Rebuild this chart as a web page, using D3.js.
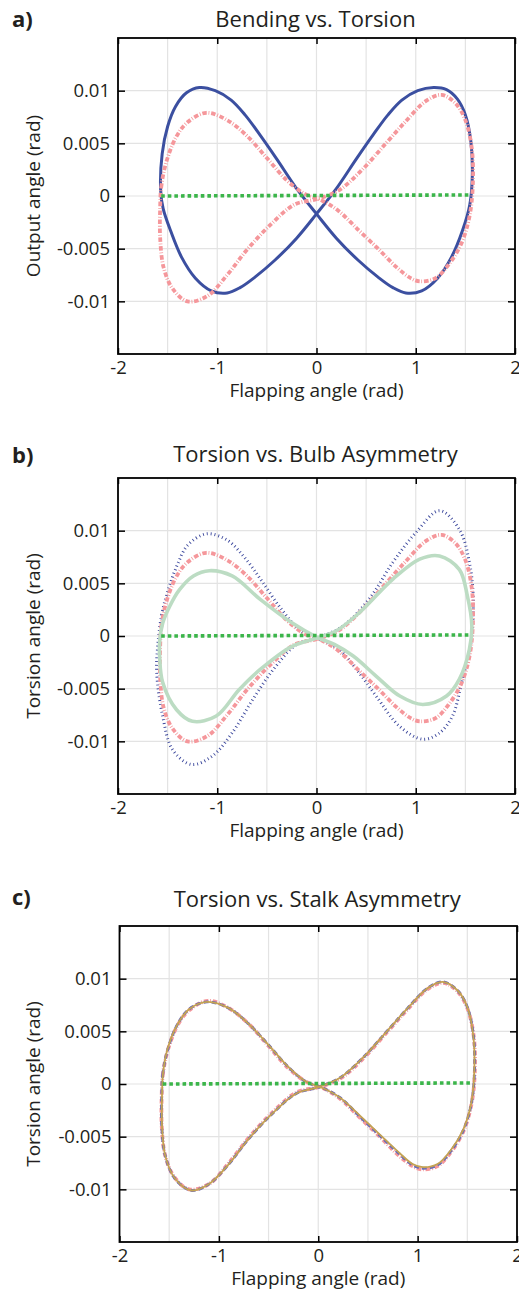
<!DOCTYPE html>
<html>
<head>
<meta charset="utf-8">
<script src="https://cdn.jsdelivr.net/npm/d3@7"></script>
<style>
body{margin:0;background:#fff}
text{font-family:"Open Sans",sans-serif;fill:#231f20}
</style>
</head>
<body>
<div class="chart"></div>
<script>
// axis ticks
const xTicks=[-2,-1,0,1,2]
const xTickLabels=['-2','-1','0','1','2']
const yTicks=[-0.01,-0.005,0,0.005,0.01]
const yTickLabels=['-0.01','-0.005','0','0.005','0.01']
const xGrid=[-1.5,-1,-0.5,0,0.5,1,1.5]

// [flapping angle, output angle]
const bending=[
	[-1.57,0.0005],[-1.555,0.0040],[-1.50,0.0066],[-1.42,0.0085],[-1.31,0.0098],[-1.18,0.0103],
	[-1.02,0.0100],[-0.86,0.0091],[-0.72,0.0077],[-0.57,0.0058],[-0.40,0.0035],[-0.20,0.0007],
	[0,-0.0017],[0.20,-0.0040],[0.42,-0.0061],[0.62,-0.0077],[0.77,-0.0087],[0.90,-0.0092],
	[1.06,-0.0090],[1.22,-0.0078],[1.36,-0.0058],[1.47,-0.0033],[1.545,-0.0008],[1.57,0.0020],
	[1.555,0.0052],[1.50,0.0077],[1.42,0.0092],[1.31,0.0101],[1.18,0.0103],[1.02,0.0100],
	[0.86,0.0091],[0.72,0.0077],[0.57,0.0058],[0.40,0.0035],[0.20,0.0007],[0,-0.0017],
	[-0.20,-0.0040],[-0.42,-0.0061],[-0.62,-0.0077],[-0.77,-0.0087],[-0.90,-0.0092],
	[-1.06,-0.0090],[-1.22,-0.0078],[-1.36,-0.0058],[-1.47,-0.0033],[-1.545,-0.0012]
]
const torsion=[
	[-1.575,-0.0010],[-1.565,0.0008],[-1.52,0.0030],[-1.42,0.0055],[-1.30,0.0070],[-1.11,0.0079],
	[-0.90,0.0072],[-0.70,0.0057],[-0.50,0.0036],[-0.30,0.0015],[-0.12,0.0002],[0.05,-0.0004],
	[0.22,-0.0014],[0.43,-0.0033],[0.62,-0.0050],[0.80,-0.0067],[0.95,-0.0078],[1.04,-0.0081],
	[1.20,-0.0078],[1.34,-0.0064],[1.46,-0.0045],[1.54,-0.0020],[1.575,0.0010],[1.565,0.0045],
	[1.50,0.0072],[1.40,0.0088],[1.26,0.0096],[1.10,0.0090],[0.90,0.0071],[0.70,0.0050],
	[0.45,0.0024],[0.22,0.0005],[0,-0.0003],[-0.22,-0.0008],[-0.45,-0.0026],[-0.70,-0.0051],
	[-0.90,-0.0075],[-1.10,-0.0095],[-1.30,-0.0100],[-1.45,-0.0088],[-1.54,-0.0068],[-1.575,-0.0040]
]
const flat=[[-1.565,0],[1.55,0.0001]]
const bulbHigh=[
	[-1.60,-0.0010],[-1.56,0.0020],[-1.49,0.0045],[-1.40,0.0068],[-1.30,0.0086],[-1.11,0.0097],
	[-0.90,0.0091],[-0.72,0.0074],[-0.55,0.0052],[-0.35,0.0025],[-0.15,0.0004],[0.05,-0.0004],
	[0.23,-0.0013],[0.43,-0.0035],[0.60,-0.0057],[0.84,-0.0086],[1.07,-0.0098],[1.24,-0.0092],
	[1.37,-0.0076],[1.47,-0.0041],[1.55,-0.0010],[1.58,0.0035],[1.54,0.0070],[1.44,0.0101],
	[1.24,0.0119],[1.00,0.0098],[0.77,0.0070],[0.53,0.0035],[0.26,0.0009],[0,-0.0002],
	[-0.20,-0.0008],[-0.42,-0.0030],[-0.64,-0.0060],[-0.85,-0.0092],[-1.05,-0.0114],
	[-1.26,-0.0122],[-1.45,-0.0108],[-1.55,-0.0076],[-1.61,-0.0035]
]
const bulbLow=[
	[-1.58,-0.0005],[-1.55,0.0012],[-1.48,0.0028],[-1.38,0.0044],[-1.24,0.0057],[-1.08,0.0062],
	[-0.85,0.0057],[-0.57,0.0035],[-0.24,0.0012],[0,-0.0001],[0.18,-0.0008],[0.37,-0.0019],
	[0.60,-0.0038],[0.84,-0.0057],[1.07,-0.0065],[1.31,-0.0057],[1.44,-0.0041],[1.54,-0.0013],
	[1.565,0.0010],[1.52,0.0038],[1.44,0.0063],[1.24,0.0076],[1.04,0.0073],[0.77,0.0054],
	[0.43,0.0022],[0.20,0.0005],[0,-0.0002],[-0.25,-0.0010],[-0.57,-0.0032],[-0.78,-0.0051],
	[-1.01,-0.0076],[-1.25,-0.0081],[-1.41,-0.0070],[-1.55,-0.0044],[-1.58,-0.0020]
]
const stalkA=[
	[-1.575,-0.0010],[-1.565,0.0009],[-1.52,0.0031],[-1.42,0.0056],[-1.30,0.0071],[-1.12,0.0078],
	[-0.90,0.0072],[-0.70,0.0057],[-0.50,0.0037],[-0.30,0.0016],[-0.12,0.0002],[0.05,-0.0004],
	[0.22,-0.0013],[0.43,-0.0032],[0.62,-0.0049],[0.80,-0.0065],[0.95,-0.0077],[1.05,-0.0080],
	[1.20,-0.0077],[1.34,-0.0063],[1.46,-0.0044],[1.54,-0.0019],[1.572,0.0011],[1.562,0.0046],
	[1.50,0.0073],[1.40,0.0089],[1.25,0.0097],[1.10,0.0091],[0.90,0.0072],[0.70,0.0051],
	[0.45,0.0025],[0.22,0.0006],[0,-0.0003],[-0.22,-0.0009],[-0.45,-0.0027],[-0.70,-0.0052],
	[-0.90,-0.0076],[-1.10,-0.0095],[-1.28,-0.0101],[-1.44,-0.0090],[-1.54,-0.0068],[-1.575,-0.0040]
]
const stalkB=[
	[-1.572,-0.0010],[-1.562,0.0010],[-1.52,0.0032],[-1.42,0.0056],[-1.30,0.0071],[-1.12,0.0078],
	[-0.90,0.0072],[-0.70,0.0057],[-0.50,0.0037],[-0.30,0.0016],[-0.12,0.0002],[0.05,-0.0004],
	[0.22,-0.0013],[0.43,-0.0031],[0.62,-0.0048],[0.80,-0.0064],[0.95,-0.0076],[1.05,-0.0079],
	[1.20,-0.0076],[1.34,-0.0062],[1.46,-0.0043],[1.54,-0.0018],[1.57,0.0012],[1.56,0.0046],
	[1.50,0.0073],[1.40,0.0089],[1.25,0.0097],[1.10,0.0091],[0.90,0.0072],[0.70,0.0051],
	[0.45,0.0025],[0.22,0.0006],[0,-0.0003],[-0.22,-0.0009],[-0.45,-0.0027],[-0.70,-0.0052],
	[-0.90,-0.0076],[-1.10,-0.0095],[-1.28,-0.0101],[-1.44,-0.0090],[-1.54,-0.0068],[-1.572,-0.0040]
]

const pinkStyle={data:torsion,color:'#f5979b',width:3.8,dash:'4.5,1.8,0.8,1.8',closed:true}
const greenStyle={data:flat,color:'#3bb54a',width:3.6,dash:'3.6,3',closed:false}

const panels=[
	{label:'a)',title:'Bending vs. Torsion',ylabel:'Output angle (rad)',top:38,bottom:354,left:118,right:515,titleY:27,labelY:27,
		series:[{data:bending,color:'#3b4fa0',width:3,dash:null,closed:true},pinkStyle,greenStyle]},
	{label:'b)',title:'Torsion vs. Bulb Asymmetry',ylabel:'Torsion angle (rad)',top:478,bottom:794,left:118,right:515,titleY:462,labelY:463,
		series:[{data:bulbHigh,color:'#3a469c',width:3,dash:'0.9,3',closed:true},pinkStyle,
			{data:bulbLow,color:'#bcdcc3',width:3.6,dash:null,closed:true},greenStyle]},
	{label:'c)',title:'Torsion vs. Stalk Asymmetry',ylabel:'Torsion angle (rad)',top:926,bottom:1242,left:119.5,right:517,titleY:907,labelY:905,
		series:[pinkStyle,{data:stalkA,color:'#6a6cb6',width:2.8,dash:'5,3',closed:true},
			{data:stalkB,color:'#c4a352',width:1.8,dash:null,closed:true},greenStyle]}
]

const svg=d3.select('.chart').append('svg')
		.attr('width',519)
		.attr('height',1291)

function drawPanel(p){
	const x=d3.scaleLinear().domain([-2,2]).range([p.left,p.right])
	const y=d3.scaleLinear().domain([-0.015,0.015]).range([p.bottom,p.top])
	const g=svg.append('g')

	// grid
	g.selectAll('.vgrid').data(xGrid).enter().append('line')
		.attr('x1',d=>x(d)).attr('x2',d=>x(d))
		.attr('y1',p.top).attr('y2',p.bottom)
		.attr('stroke','#e3e3e3').attr('stroke-width',1.2)
	g.selectAll('.hgrid').data(yTicks).enter().append('line')
		.attr('y1',d=>y(d)).attr('y2',d=>y(d))
		.attr('x1',p.left).attr('x2',p.right)
		.attr('stroke','#e3e3e3').attr('stroke-width',1.2)

	// curves
	p.series.forEach(s=>{
		const line=d3.line()
			.x(d=>x(d[0]))
			.y(d=>y(d[1]))
			.curve(s.closed?d3.curveCatmullRomClosed.alpha(0.5):d3.curveLinear)
		g.append('path')
			.attr('d',line(s.data))
			.attr('fill','none')
			.attr('stroke',s.color)
			.attr('stroke-width',s.width)
			.attr('stroke-dasharray',s.dash)
	})

	// axes, ticks pointing inward
	const xAxis=d3.axisBottom(x).tickValues(xTicks).tickSize(-6).tickPadding(7)
		.tickFormat((d,i)=>xTickLabels[i])
	const xTop=d3.axisTop(x).tickValues(xTicks).tickSize(-6).tickFormat('')
	const yAxis=d3.axisLeft(y).tickValues(yTicks).tickSize(-7).tickPadding(8)
		.tickFormat((d,i)=>yTickLabels[i])
	const yRight=d3.axisRight(y).tickValues(yTicks).tickSize(-7).tickFormat('')

	const axes=[
		[xAxis,`translate(0,${p.bottom})`],
		[xTop,`translate(0,${p.top})`],
		[yAxis,`translate(${p.left},0)`],
		[yRight,`translate(${p.right},0)`]
	]
	axes.forEach(a=>{
		const ag=g.append('g').attr('transform',a[1]).call(a[0])
		ag.select('.domain').remove()
		ag.selectAll('line').attr('stroke','#000').attr('stroke-width',1.5)
		ag.selectAll('text').attr('font-family','"Open Sans",sans-serif')
			.attr('font-size',18.5).attr('fill','#231f20')
	})

	g.append('rect')
		.attr('x',p.left).attr('y',p.top)
		.attr('width',p.right-p.left).attr('height',p.bottom-p.top)
		.attr('fill','none').attr('stroke','#000').attr('stroke-width',1.8)

	g.append('text')
		.attr('x',(p.left+p.right)/2)
		.attr('y',p.bottom+43)
		.attr('text-anchor','middle')
		.attr('font-size',19)
		.text('Flapping angle (rad)')

	g.append('text')
		.attr('transform',`translate(40,${(p.top+p.bottom)/2}) rotate(-90)`)
		.attr('text-anchor','middle')
		.attr('font-size',19)
		.text(p.ylabel)

	g.append('text')
		.attr('x',(p.left+p.right)/2-1)
		.attr('y',p.titleY)
		.attr('text-anchor','middle')
		.attr('font-size',22)
		.text(p.title)

	g.append('text')
		.attr('x',12)
		.attr('y',p.labelY)
		.attr('font-size',22)
		.attr('font-weight','bold')
		.text(p.label)
}

panels.forEach(drawPanel)
</script>
</body>
</html>
